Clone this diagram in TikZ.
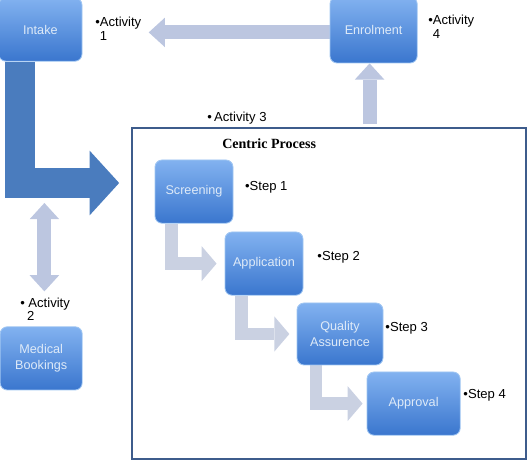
\documentclass[tikz,border=0pt]{standalone}
\usepackage{fontspec}
\setmainfont{Liberation Sans}
\newfontfamily\headfont{Liberation Serif}
\usetikzlibrary{arrows.meta,backgrounds}
\definecolor{boxtop}{RGB}{130,178,240}
\definecolor{boxbottom}{RGB}{58,118,206}
\definecolor{boxedge}{RGB}{160,198,242}
\definecolor{boxtext}{RGB}{222,234,248}
\definecolor{bigblue}{RGB}{74,124,190}
\definecolor{paleflow}{RGB}{188,198,224}
\definecolor{stepgray}{RGB}{202,209,226}
\definecolor{frameblue}{RGB}{62,92,140}
\begin{document}
\begin{tikzpicture}[
 font=\fontsize{9.3}{9.4}\selectfont,
 stage/.style={draw=boxedge,line width=0.6pt,rounded corners=5pt,top color=boxtop,bottom color=boxbottom,text=boxtext,align=center,minimum width=1.95cm,minimum height=1.58cm,inner sep=2pt,font=\fontsize{9}{11}\selectfont},
 note/.style={align=left,inner sep=0pt,anchor=west},
 bigflow/.style={draw=bigblue,line width=22pt,-{Triangle[length=21pt,width=46pt,line width=0pt]}},
 flow/.style={draw=paleflow,line width=10pt,>={Triangle[length=11.5pt,width=21pt,line width=0pt]}},
 stepflow/.style={draw=stepgray,line width=9.2pt,-{Triangle[length=10.7pt,width=25pt,line width=0pt]}}
]
\useasboundingbox (0,0) rectangle (13.3,-11.875);
\node[draw=frameblue,line width=1.2pt,minimum width=9.85cm,minimum height=8.275cm] (centric) at (8.225,-7.34) {};
\node[stage,minimum width=2.08cm] (intake) at (1.01,-0.74) {Intake};
\node[stage,minimum width=2.18cm,minimum height=1.65cm] (enrol) at (9.34,-0.75) {Enrolment};
\node[stage,minimum width=2.05cm] (medical) at (1.03,-8.96) {Medical\\Bookings};
\node[stage] (screening) at (4.85,-4.79) {Screening};
\node[stage] (application) at (6.60,-6.59) {Application};
\node[stage,minimum width=2.15cm,minimum height=1.55cm] (quality) at (8.50,-8.35) {Quality\\Assurence};
\node[stage,minimum width=2.33cm] (approval) at (10.34,-10.09) {Approval};
\node[note,anchor=north west] (act1) at (2.375,-0.43) {\textbullet Activity\\\phantom{\textbullet}1};
\node[note,anchor=north west] (act4) at (10.7,-0.38) {\textbullet Activity\\\phantom{\textbullet}4};
\node[note] (act3) at (5.18,-2.95) {\textbullet\,Activity 3};
\node[note,anchor=north west] (act2) at (0.5,-7.45) {\textbullet\ Activity\\\phantom{\textbullet\,}2};
\node[note,font=\headfont\bfseries\fontsize{10}{12}\selectfont] (title) at (5.55,-3.58) {Centric Process};
\node[note] (step1) at (6.12,-4.68) {\textbullet Step 1};
\node[note] (step2) at (7.93,-6.43) {\textbullet Step 2};
\node[note] (step3) at (9.63,-8.2) {\textbullet Step 3};
\node[note] (step4) at (11.58,-9.88) {\textbullet Step 4};
\coordinate (turn) at (0.5,-4.575);
\begin{scope}[on background layer]
\draw[bigflow,shorten >=0.3cm] (intake.south -| turn) -- (turn) -- (turn -| centric.west);
\draw[flow,->,shorten >=0.18cm] ([yshift=-0.06cm]enrol.west) -- ([yshift=-0.06cm]enrol.west -| act1.east);
\draw[flow,->,shorten <=0.08cm] ([xshift=-0.1cm]centric.north -| enrol.south) -- ([xshift=-0.1cm]enrol.south);
\draw[flow,<->,shorten <=0.875cm,shorten >=0.5cm] ([xshift=0.08cm]medical.north) -- ([xshift=0.08cm]medical.north |- turn);
\draw[stepflow,shorten >=0.2cm] ([xshift=-0.56cm]screening.south) |- (application.west);
\draw[stepflow,shorten >=0.18cm] ([xshift=-0.56cm]application.south) |- (quality.west);
\draw[stepflow,shorten >=0.1cm] ([xshift=-0.6cm]quality.south) |- (approval.west);
\end{scope}
\end{tikzpicture}
\end{document}
